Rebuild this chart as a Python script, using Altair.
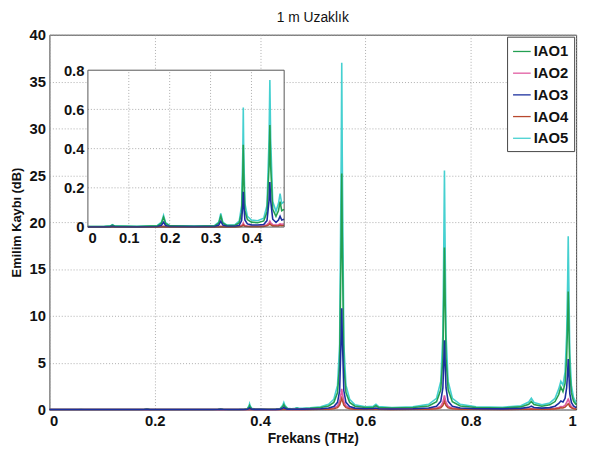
import altair as alt
import pandas as pd

# ---------------- data ----------------
FREQ = [0.000, 0.040, 0.055, 0.060, 0.065, 0.120, 0.170, 0.180, 0.185, 0.190,
        0.200, 0.260, 0.310, 0.320, 0.325, 0.330, 0.340, 0.360, 0.370, 0.376,
        0.379, 0.380, 0.381, 0.384, 0.390, 0.400, 0.415, 0.430, 0.438, 0.443,
        0.445, 0.447, 0.452, 0.460, 0.466, 0.470, 0.474, 0.480, 0.495, 0.515,
        0.530, 0.540, 0.547, 0.551, 0.554, 0.555, 0.556, 0.559, 0.563, 0.570,
        0.580, 0.600, 0.615, 0.620, 0.625, 0.650, 0.690, 0.720, 0.735, 0.743,
        0.747, 0.749, 0.750, 0.751, 0.753, 0.757, 0.765, 0.780, 0.810, 0.860,
        0.895, 0.910, 0.915, 0.920, 0.935, 0.950, 0.960, 0.967, 0.971, 0.975,
        0.979, 0.982, 0.984, 0.985, 0.986, 0.988, 0.991, 0.995, 1.000]

IAO5 = [0.003, 0.004, 0.006, 0.012, 0.006, 0.004, 0.008, 0.025, 0.060, 0.022,
        0.008, 0.005, 0.008, 0.025, 0.070, 0.025, 0.010, 0.012, 0.030, 0.110,
        0.400, 0.610, 0.400, 0.120, 0.055, 0.036, 0.032, 0.045, 0.110, 0.450,
        0.750, 0.450, 0.130, 0.080, 0.120, 0.170, 0.120, 0.130, 0.180, 0.30,
        0.55, 1.10, 2.6, 7.0, 27.0, 37.0, 27.0, 7.0, 2.6, 1.10,
        0.50, 0.30, 0.35, 0.55, 0.32, 0.22, 0.30, 0.55, 1.2, 3.0,
        8.0, 19.0, 25.5, 19.0, 8.0, 3.0, 1.2, 0.55, 0.30, 0.25,
        0.40, 0.80, 1.20, 0.75, 0.50, 0.70, 1.20, 2.2, 3.0, 2.6,
        4.0, 8.0, 14.0, 18.5, 14.0, 6.0, 2.6, 1.3, 0.7]

IAO1 = [0.002, 0.003, 0.005, 0.010, 0.005, 0.003, 0.006, 0.020, 0.050, 0.018,
        0.006, 0.004, 0.006, 0.020, 0.055, 0.020, 0.008, 0.009, 0.021, 0.076,
        0.280, 0.420, 0.280, 0.083, 0.038, 0.025, 0.022, 0.031, 0.076, 0.310,
        0.520, 0.310, 0.090, 0.055, 0.083, 0.130, 0.083, 0.090, 0.125, 0.21,
        0.38, 0.76, 1.8, 4.8, 18.5, 25.2, 18.5, 4.8, 1.8, 0.76,
        0.35, 0.21, 0.24, 0.40, 0.22, 0.15, 0.21, 0.38, 0.83, 2.1,
        5.5, 13.0, 17.3, 13.0, 5.5, 2.1, 0.83, 0.38, 0.21, 0.17,
        0.28, 0.55, 0.85, 0.52, 0.35, 0.50, 0.85, 1.6, 2.4, 1.9,
        2.8, 5.5, 9.6, 12.6, 9.6, 4.1, 1.8, 0.9, 0.5]

IAO3 = [0.001, 0.001, 0.002, 0.004, 0.002, 0.001, 0.003, 0.009, 0.025, 0.008,
        0.003, 0.002, 0.003, 0.010, 0.030, 0.010, 0.004, 0.004, 0.009, 0.033,
        0.120, 0.180, 0.120, 0.036, 0.016, 0.011, 0.010, 0.013, 0.033, 0.135,
        0.230, 0.135, 0.040, 0.024, 0.036, 0.055, 0.036, 0.040, 0.055, 0.09,
        0.16, 0.32, 0.76, 2.0, 7.9, 10.8, 7.9, 2.0, 0.76, 0.32,
        0.15, 0.09, 0.10, 0.16, 0.09, 0.06, 0.09, 0.16, 0.35, 0.87,
        2.3, 5.5, 7.4, 5.5, 2.3, 0.87, 0.35, 0.16, 0.09, 0.07,
        0.12, 0.23, 0.35, 0.22, 0.15, 0.20, 0.35, 0.65, 0.9, 0.8,
        1.2, 2.3, 4.1, 5.4, 4.1, 1.7, 0.75, 0.38, 0.2]

IAO2 = [0.000, 0.000, 0.001, 0.001, 0.001, 0.000, 0.001, 0.002, 0.004, 0.002,
        0.001, 0.001, 0.001, 0.002, 0.004, 0.002, 0.001, 0.002, 0.004, 0.008,
        0.015, 0.020, 0.015, 0.008, 0.005, 0.004, 0.004, 0.006, 0.012, 0.022,
        0.030, 0.022, 0.012, 0.010, 0.012, 0.016, 0.014, 0.016, 0.022, 0.04,
        0.08, 0.17, 0.38, 0.85, 1.8, 2.2, 1.8, 0.85, 0.38, 0.17,
        0.08, 0.04, 0.04, 0.05, 0.04, 0.03, 0.04, 0.07, 0.15, 0.35,
        0.75, 1.25, 1.5, 1.25, 0.75, 0.35, 0.15, 0.07, 0.04, 0.03,
        0.04, 0.06, 0.08, 0.06, 0.05, 0.07, 0.12, 0.22, 0.32, 0.30,
        0.45, 0.75, 1.0, 1.1, 1.0, 0.6, 0.3, 0.15, 0.08]

IAO4 = [0.000, 0.000, 0.000, 0.001, 0.000, 0.000, 0.000, 0.001, 0.002, 0.001,
        0.000, 0.000, 0.000, 0.001, 0.002, 0.001, 0.001, 0.001, 0.002, 0.004,
        0.008, 0.011, 0.008, 0.004, 0.003, 0.002, 0.002, 0.003, 0.006, 0.012,
        0.017, 0.012, 0.006, 0.005, 0.006, 0.009, 0.007, 0.008, 0.012, 0.02,
        0.04, 0.09, 0.2, 0.47, 1.0, 1.2, 1.0, 0.47, 0.2, 0.09,
        0.04, 0.02, 0.02, 0.03, 0.02, 0.015, 0.02, 0.04, 0.08, 0.19,
        0.42, 0.7, 0.85, 0.7, 0.42, 0.19, 0.08, 0.04, 0.02, 0.015,
        0.02, 0.03, 0.045, 0.03, 0.03, 0.04, 0.07, 0.12, 0.18, 0.17,
        0.25, 0.42, 0.55, 0.6, 0.55, 0.33, 0.17, 0.08, 0.04]

SERIES = ["IAO1", "IAO2", "IAO3", "IAO4", "IAO5"]
SERIES_VALUES = [IAO1, IAO2, IAO3, IAO4, IAO5]
COLORS = ["#23a052", "#e05aa0", "#1b2f9e", "#b8482e", "#45d0d0"]
DRAW_ORDER = ["IAO5", "IAO1", "IAO2", "IAO4", "IAO3"]

X_TICKS = [0, 0.2, 0.4, 0.6, 0.8, 1]
Y_TICKS = [0, 5, 10, 15, 20, 25, 30, 35, 40]
INSET_X_TICKS = [0, 0.1, 0.2, 0.3, 0.4]
INSET_Y_TICKS = [0, 0.2, 0.4, 0.6, 0.8]
INSET_X_MAX = 0.48
INSET_Y_MAX = 0.8

TITLE = "1 m Uzaklık"
X_TITLE = "Frekans (THz)"
Y_TITLE = "Emilim Kaybı (dB)"

FONT = "Liberation Sans"
W, H = 534, 380
INSET_XR = [39, 238]
INSET_YR = [195, 36]

# ---------------- build tables ----------------
rows = []
for name, vals in zip(SERIES, SERIES_VALUES):
    for f, v in zip(FREQ, vals):
        rows.append({"f": f, "v": v, "series": name})
df = pd.DataFrame(rows)
df_in = df[df["f"] <= INSET_X_MAX].copy()

color = alt.Color(
    "series:N",
    scale=alt.Scale(domain=SERIES, range=COLORS),
    legend=alt.Legend(
        title=None, orient="top-right", offset=2,
        strokeColor="#444", fillColor="white", padding=5,
        labelFont=FONT, labelFontSize=15, labelFontWeight="bold", labelColor="#111",
        labelOffset=2,
        symbolType="stroke", symbolStrokeWidth=1.3, symbolSize=320, rowPadding=4,
    ),
)

x_main = alt.X(
    "f:Q",
    scale=alt.Scale(domain=[0, 1], nice=False),
    axis=alt.Axis(values=X_TICKS, title=X_TITLE, format="~g", grid=True,
                  labelPadding=4, titlePadding=3),
)
y_main = alt.Y(
    "v:Q",
    scale=alt.Scale(domain=[0, 40], nice=False),
    axis=alt.Axis(values=Y_TICKS, title=Y_TITLE, grid=True,
                  labelPadding=4, titlePadding=6, titleFontSize=13),
)

main_layers = []
for name in DRAW_ORDER:
    main_layers.append(
        alt.Chart(df)
        .transform_filter(alt.datum.series == name)
        .mark_line(strokeWidth=1.6)
        .encode(x=x_main, y=y_main, color=color)
    )
main = alt.layer(*main_layers)

# ---------------- inset ----------------
x_in = alt.X(
    "f:Q",
    scale=alt.Scale(domain=[0, INSET_X_MAX], range=INSET_XR, nice=False),
    axis=alt.Axis(values=INSET_X_TICKS, title=None, format="~g", grid=False,
                  orient="bottom", offset=-(H - INSET_YR[0]), labelPadding=4, zindex=1),
)
y_in = alt.Y(
    "v:Q",
    scale=alt.Scale(domain=[0, INSET_Y_MAX], range=INSET_YR, nice=False),
    axis=alt.Axis(values=INSET_Y_TICKS, title=None, format="~g", grid=False,
                  orient="left", offset=-INSET_XR[0], labelPadding=4, zindex=1),
)

box = pd.DataFrame({"f": [0.0], "f2": [INSET_X_MAX], "v": [0.0], "v2": [INSET_Y_MAX]})
bg = alt.Chart(box).mark_rect(fill="white").encode(
    x=x_in, x2="f2:Q", y=y_in, y2="v2:Q")
frame = alt.Chart(box).mark_rect(fillOpacity=0, stroke="#555", strokeWidth=1).encode(
    x=x_in, x2="f2:Q", y=y_in, y2="v2:Q")

vgrid = pd.DataFrame({"f": INSET_X_TICKS[1:], "v": [0.0] * 4, "v2": [INSET_Y_MAX] * 4})
hgrid = pd.DataFrame({"v": INSET_Y_TICKS[1:-1], "f": [0.0] * 3, "f2": [INSET_X_MAX] * 3})
vrules = alt.Chart(vgrid).mark_rule(color="#aaa", strokeDash=[1, 2]).encode(
    x=x_in, y=y_in, y2="v2:Q")
hrules = alt.Chart(hgrid).mark_rule(color="#aaa", strokeDash=[1, 2]).encode(
    x=x_in, x2="f2:Q", y=y_in)

inset_layers = [bg, vrules, hrules]
for name in DRAW_ORDER:
    inset_layers.append(
        alt.Chart(df_in)
        .transform_filter(alt.datum.series == name)
        .mark_line(strokeWidth=1.6)
        .encode(x=x_in, y=y_in, color=color)
    )
inset_layers.append(frame)
inset = alt.layer(*inset_layers)

chart = (
    alt.layer(main, inset)
    .resolve_scale(x="independent", y="independent")
    .properties(
        width=W, height=H,
        title=alt.TitleParams(TITLE, font=FONT, fontSize=14, fontWeight="normal",
                              color="#111", offset=3),
        padding={"left": 42, "top": 24, "right": 9, "bottom": 40},
        autosize=alt.AutoSizeParams(type="none"),
    )
    .configure_view(stroke="#444", strokeWidth=1)
    .configure_axis(
        labelFont=FONT, labelFontSize=15, labelFontWeight="bold", labelColor="#111",
        titleFont=FONT, titleFontSize=14, titleFontWeight="bold", titleColor="#111",
        gridColor="#999", gridDash=[1, 2], gridOpacity=0.8,
        ticks=False, domain=False,
    )
)

chart.save("out.html", embed_options={"renderer": "svg", "actions": False})
